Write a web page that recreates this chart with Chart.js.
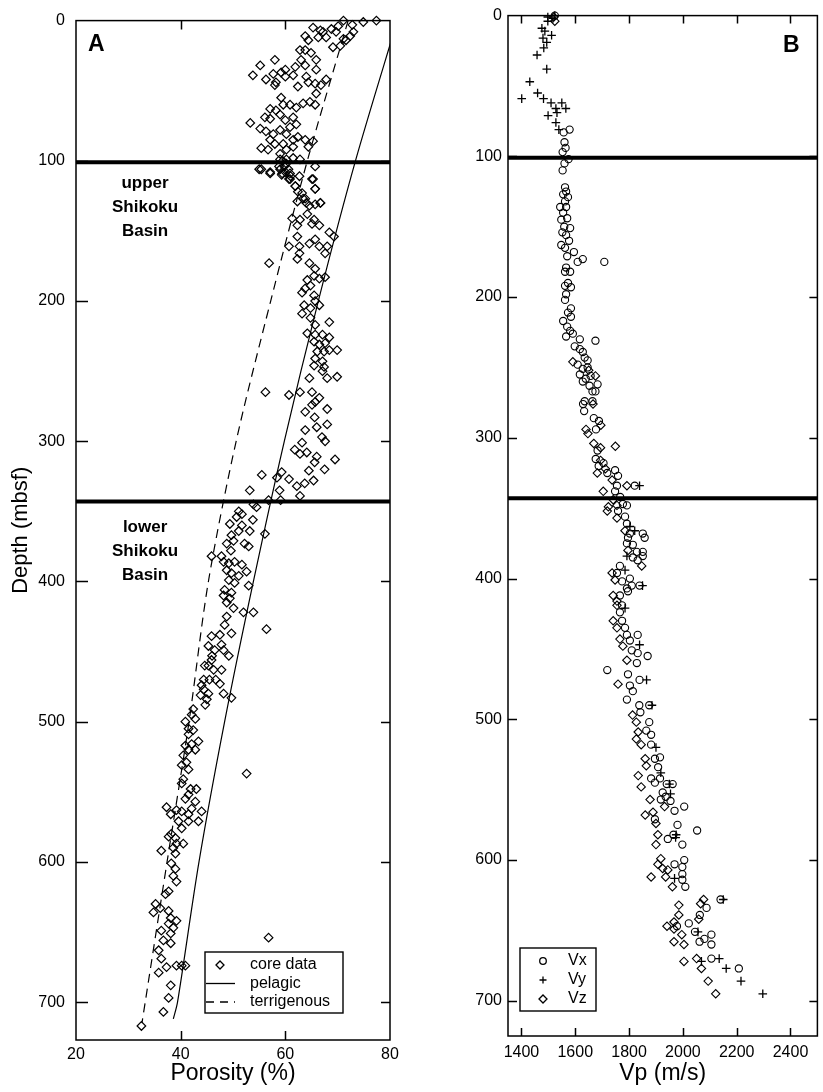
<!DOCTYPE html>
<html>
<head>
<meta charset="utf-8">
<script src="https://cdn.jsdelivr.net/npm/chart.js@4.4.1/dist/chart.umd.min.js"></script>
<style>
  html, body { margin: 0; padding: 0; background: #fff; }
  #wrap { position: relative; width: 823px; height: 1092px; overflow: hidden; }
  canvas { position: absolute; top: 0; }
  #porosityChart { left: 0; }
  #velocityChart { left: 440px; }
</style>
</head>
<body>
<div id="wrap">
  <canvas id="porosityChart" width="440" height="1092"></canvas>
  <canvas id="velocityChart" width="383" height="1092"></canvas>
</div>
<script>
// ---- Panel A: porosity vs depth ----
const porosityTicks = [20, 40, 60, 80];
const depthTicks = [0, 100, 200, 300, 400, 500, 600, 700];
const unitBoundaries = [101, 343];   // mbsf

// [porosity %, depth mbsf]
const coreData = [
  [77.4,0],[74.9,1],[72.8,3],[71.1,0],[70.1,4],[68.8,6],[67.2,8],[69.7,8],[73.0,8],[72.4,11],[71.1,13],[71.6,14],
  [70.5,18],[69.1,19],[67.8,12],[66.7,7],[65.3,5],[66.3,12],[63.8,11],[64.4,14],[62.8,21],[63.8,21],[64.9,23],
  [65.9,28],[63.0,28],[63.8,32],[65.9,35],[61.9,33],[60.0,35],[59.2,37],[58.0,28],[55.2,32],[53.8,39],[56.3,42],
  [57.7,38],[58.2,44],[58.0,46],[60.0,40],[61.5,39],[62.4,47],[64.0,40],[64.4,44],[65.7,45],[66.8,46],[67.8,42],
  [65.9,52],[65.7,60],[64.7,58],[63.4,59],[62.1,62],[60.9,60],[59.2,55],[59.6,60],[58.2,64],[57.1,63],[56.1,69],
  [57.1,70],[59.0,67],[60.0,71],[61.5,69],[62.1,74],[60.9,76],[60.2,81],[59.0,78],[57.7,81],[56.3,79],[55.2,77],
  [53.3,73],[57.1,85],[58.0,88],[59.6,88],[61.5,85],[62.4,83],[63.8,85],[65.3,86],[64.4,90],[61.5,90],[60.2,92],
  [59.0,95],[56.7,92],[55.4,91],[59.0,99],[60.2,99],[61.5,98],[62.8,99],[65.7,104],[55.4,106],[57.1,108],[59.0,106],
  [60.0,108],[60.9,109],[65.3,113],[60.9,113],[61.9,118],[62.4,122],[65.7,120],[63.4,127],[66.7,130],[64.0,130],
  [59.5,100],[60.2,102],[59.8,104],[60.6,106],[59.3,110],[61.0,111],
  [55.0,106],[57.1,109],[58.8,104],[59.4,109],[60.7,113],[61.9,118],[62.7,111],[65.1,113],[65.7,120],[63.2,123],
  [62.3,129],[63.8,127],[64.6,132],[65.7,131],[66.7,130],[61.3,141],[62.3,146],[62.8,142],[64.2,138],[65.5,142],
  [65.1,145],[66.5,146],[68.4,151],[69.3,154],[62.3,154],[60.7,161],[62.7,161],[64.6,159],[65.7,156],[66.5,161],
  [68.0,161],[67.6,166],[62.7,166],[62.3,170],[56.9,173],[64.6,173],[65.7,177],[65.5,182],[66.5,184],[67.6,183],
  [64.2,185],[63.8,191],[63.2,194],[64.8,189],[65.5,196],[65.7,200],[63.6,203],[64.8,205],[66.5,203],[63.2,209],
  [64.8,212],[65.7,217],[68.4,215],[64.2,223],[65.7,224],[67.1,224],[68.4,226],[65.5,229],[66.5,231],[67.6,230],
  [66.1,236],[67.4,236],[68.4,235],[69.9,235],[65.7,241],[67.1,243],[65.5,246],[67.4,247],[67.1,250],[68.0,255],
  [69.9,254],[64.6,255],[56.2,265],[60.7,267],[62.8,265],[65.1,265],[66.5,269],[65.7,272],
  [65.1,274],[63.8,279],[68.0,277],[65.6,283],[66.0,290],[68.0,288],[63.8,292],[67.0,297],[67.6,300],[63.2,301],
  [61.8,306],[62.8,309],[64.1,308],[66.0,311],[65.6,315],[69.5,313],[64.5,321],[67.5,320],[65.4,328],[63.7,330],
  [62.2,332],[62.8,339],[59.3,322],[58.4,326],[60.7,327],[55.5,324],[58.9,335],[53.2,335],[59.1,342],[56.8,342],
  [54.5,347],[53.9,345],
  [51.1,350],[51.7,352],[50.7,354],[49.4,359],[51.7,360],[51.1,364],[53.2,364],[53.8,356],[49.7,367],[50.1,371],
  [48.8,373],[52.2,373],[53.0,375],[49.6,378],[45.9,382],[47.8,382],[48.2,386],[49.2,387],[50.3,386],[51.7,388],
  [56.1,366],[48.8,392],[49.7,394],[51.1,396],[52.6,393],[49.2,399],[50.3,401],[53.0,403],[48.4,406],[49.7,408],
  [48.2,410],[49.4,412],[48.8,415],[50.1,419],[52.0,422],[53.9,422],[56.4,434],[48.8,425],[48.4,431],[49.7,437],
  [45.9,439],[47.5,438],[45.3,446],[46.5,449],[48.2,449],[49.2,453],[44.6,460],[45.9,456],[46.3,463],[47.8,463],
  [44.4,470],[45.5,470],[47.5,473],[44.4,477],[45.3,480],[48.2,480],[49.7,483],
  [46.0,453],[47.8,445],[45.3,460],[46.7,470],[44.0,474],[45.0,484],[43.8,481],
  [44.7,488],[42.4,491],[42.1,495],[42.8,498],[40.9,500],[41.5,505],[42.4,506],[43.4,514],[41.5,509],[42.1,516],
  [40.9,517],[41.5,520],[42.8,520],[40.5,524],[41.1,529],[40.2,531],[41.5,534],[40.5,541],[40.2,544],[41.9,548],
  [43.0,548],[41.5,552],[40.9,555],[42.8,557],[44.0,564],[42.1,562],[41.5,566],[40.2,564],[39.2,563],[37.3,561],
  [38.1,566],[39.6,571],[41.5,571],[43.4,571],[40.2,576],[38.2,580],[39.0,583],[37.7,582],[39.2,587],[40.5,587],
  [36.3,592],[38.6,590],[39.0,594],[38.2,601],[39.0,605],[38.6,610],[39.2,614],[37.7,621],[37.1,623],[35.2,630],
  [34.8,636],[36.1,633],[37.7,635],[38.1,640],[39.2,642],[37.7,644],[38.6,647],[36.3,649],[38.1,651],[36.7,656],
  [38.1,658],[35.8,663],[36.3,669],[37.3,675],[35.8,679],[39.2,674],[40.2,674],[40.9,674],[38.1,688],[37.7,697],
  [36.7,707],[32.5,717],[52.6,537],[56.8,654]
];

// compaction trends: depth (mbsf) and porosity (%)
const pelagicDepth = [0, 100, 200, 300, 400, 500, 600, 700, 712];
const pelagicPorosity = [81.4, 73.4, 66.3, 59.8, 53.9, 48.4, 43.5, 39.4, 38.6];
const terrigenousDepth = [0, 100, 200, 300, 400, 500, 600, 715];
const terrigenousPorosity = [72.0, 64.2, 57.2, 50.6, 45.3, 41.6, 37.4, 32.6];

// ---- Panel B: P-wave velocity vs depth ----
const velocityTicks = [1400, 1600, 1800, 2000, 2200, 2400];

// [Vp m/s, depth mbsf]
const vxData = [
  [1524,0],[1579,81],[1557,83],[1560,90],[1564,94],[1553,97],[1575,102],[1560,105],[1553,110],
  [1562,122],[1566,125],[1555,127],[1573,129],[1562,132],[1544,136],[1566,136],[1555,140],[1570,144],[1548,145],
  [1581,151],[1559,150],[1552,154],[1566,156],[1577,160],[1548,163],[1562,165],[1595,168],[1609,175],[1628,173],
  [1708,175],[1570,171],[1566,179],[1581,182],[1562,182],[1573,190],[1562,192],[1584,193],[1566,198],[1562,202],
  [1584,208],[1573,211],[1584,214],[1555,217],[1570,221],[1581,224],[1566,228],[1591,226],[1617,230],[1675,231],
  [1598,235],[1617,237],[1628,239],[1609,248],[1635,243],[1646,245],[1628,251],[1646,250],[1617,255],[1657,256],
  [1639,258],[1628,260],[1653,263],[1683,262],[1664,267],[1675,267],[1635,274],[1664,274],
  [1629,276],[1633,281],[1669,286],[1688,288],[1677,294],[1683,309],[1676,315],[1705,318],[1687,320],[1719,325],
  [1748,323],[1759,327],[1755,334],[1821,334],[1748,338],[1767,342],[1777,347],[1792,348],[1759,352],[1785,356],
  [1792,361],[1803,368],[1851,368],[1858,371],[1796,371],[1792,375],[1814,376],[1829,381],[1851,381],[1814,385],
  [1832,387],[1851,384],[1766,391],[1755,396],[1774,402],[1803,400],[1839,405],[1810,405],[1792,407],[1796,409],
  [1766,412],[1774,419],[1766,424],[1774,430],[1785,435],[1792,440],[1832,440],[1803,444],[1810,451],[1832,453],
  [1869,455],[1829,460],[1719,465],[1796,468],[1839,472],[1803,476],[1814,480],[1792,486],
  [1838,490],[1875,490],[1842,495],[1875,502],[1864,508],[1882,511],[1882,518],[1896,528],[1915,527],[1908,534],
  [1882,542],[1915,542],[1896,545],[1940,546],[1962,546],[1925,552],[1918,557],[1936,555],[1954,558],[1969,565],
  [2005,562],[1896,571],[1944,585],[1965,582],[1980,575],[1998,589],[2053,579],[1969,603],[2005,600],[1998,605],
  [1998,610],[1998,614],[2009,619],[2140,628],[2088,634],[2063,639],[2022,645],[1978,647],[2045,651],[2106,653],
  [2080,656],[2062,658],[2106,660],[2106,670],[2208,677]
];
const vyData = [
  [1524,0],[1498,1],[1517,2],[1498,4],[1476,9],[1487,11],[1480,16],[1512,14],[1494,19],[1483,23],[1458,28],
  [1494,38],[1431,47],[1401,59],[1460,55],[1482,59],[1510,62],[1550,62],[1565,66],[1528,66],[1532,69],[1499,71],
  [1528,76],[1539,81],
  [1839,334],[1803,363],[1821,366],[1792,384],[1785,394],[1850,405],[1785,421],[1839,447],[1865,472],
  [1885,490],[1900,520],[1918,538],[1950,546],[1954,553],[1975,582],[1973,584],[1969,613],[2150,628],[2056,651],
  [2069,672],[2135,670],[2161,677],[2216,686],[2297,695]
];
const vzData = [
  [1524,4],[1520,1],[1591,246],[1675,256],[1650,252],
  [1666,276],[1695,291],[1640,294],[1647,297],[1669,304],[1694,307],[1749,306],[1694,316],[1712,322],[1682,325],
  [1737,330],[1792,334],[1704,338],[1741,344],[1755,348],[1723,349],[1719,352],[1755,357],[1785,366],[1796,380],
  [1847,391],[1737,396],[1748,401],[1741,412],[1755,416],[1755,419],[1741,430],[1755,435],[1766,443],[1777,448],
  [1792,458],[1759,475],
  [1813,497],[1827,502],[1834,509],[1827,514],[1845,518],[1860,528],[1864,533],[1834,540],[1845,548],[1878,557],
  [1932,562],[1860,568],[1889,566],[1900,574],[1907,582],[1900,589],[1918,599],[1907,603],[1925,606],[1944,607],
  [1936,612],[1882,612],[1961,619],[2077,628],[2066,631],[2059,642],[1985,632],[1985,639],[1967,644],[1941,647],
  [1967,649],[1996,653],[1967,658],[2004,660],[2004,672],[2051,670],[2069,677],[2094,686],[2122,695]
];

const FONT = '"Liberation Sans", Arial, Helvetica, sans-serif';
Chart.defaults.font.family = FONT;
Chart.defaults.color = '#000';

const toPoints = pairs => pairs.map(p => ({ x: p[0], y: p[1] }));
const zipPoints = (xs, ys) => xs.map((v, i) => ({ x: v, y: ys[i] }));
const plainNumber = v => String(v);

// draw a legend / marker symbol
function drawSymbol(ctx, kind, x, y) {
    ctx.save();
    ctx.strokeStyle = '#000';
    ctx.lineWidth = 1.3;
    ctx.beginPath();
    if (kind === 'diamond') {
        ctx.moveTo(x - 4, y); ctx.lineTo(x, y - 4); ctx.lineTo(x + 4, y); ctx.lineTo(x, y + 4); ctx.closePath();
    } else if (kind === 'circle') {
        ctx.arc(x, y, 3.3, 0, Math.PI * 2);
    } else if (kind === 'cross') {
        ctx.moveTo(x - 3.5, y); ctx.lineTo(x + 3.5, y); ctx.moveTo(x, y - 3.5); ctx.lineTo(x, y + 3.5);
    } else if (kind === 'solid') {
        ctx.moveTo(x - 14, y); ctx.lineTo(x + 15, y);
    } else if (kind === 'dashed') {
        ctx.setLineDash([8, 6]);
        ctx.moveTo(x - 14, y); ctx.lineTo(x + 15, y);
    }
    ctx.stroke();
    ctx.restore();
}

function drawLegend(ctx, box) {
    ctx.save();
    ctx.fillStyle = '#fff';
    ctx.fillRect(box.x, box.y, box.w, box.h);
    ctx.strokeStyle = '#000';
    ctx.lineWidth = 1.4;
    ctx.strokeRect(box.x, box.y, box.w, box.h);
    ctx.font = box.font;
    ctx.textBaseline = 'middle';
    ctx.fillStyle = '#000';
    box.items.forEach((it, i) => {
        const cy = box.y + box.firstRow + i * box.rowGap;
        drawSymbol(ctx, it.symbol, box.symX, cy);
        ctx.fillText(it.label, box.textX, cy);
    });
    ctx.restore();
}

// frame + inward tick marks on all four sides
const frameTicks = {
    id: 'frameTicks',
    afterDatasetsDraw(chart, args, opts) {
        const { ctx, chartArea: a, scales: { x, y } } = chart;
        const len = opts.len || 9;
        ctx.save();
        ctx.strokeStyle = '#000';
        ctx.lineWidth = 1.5;
        ctx.strokeRect(a.left, a.top, a.right - a.left, a.bottom - a.top);
        ctx.beginPath();
        x.ticks.forEach(t => {
            const px = Math.round(x.getPixelForValue(t.value)) + 0.5;
            if (px < a.left + 3 || px > a.right - 3) return;
            ctx.moveTo(px, a.top); ctx.lineTo(px, a.top + len);
            ctx.moveTo(px, a.bottom); ctx.lineTo(px, a.bottom - len);
        });
        y.ticks.forEach(t => {
            const py = Math.round(y.getPixelForValue(t.value)) + 0.5;
            if (py < a.top + 3 || py > a.bottom - 3) return;
            ctx.moveTo(a.left, py); ctx.lineTo(a.left + (opts.leftLen || len), py);
            ctx.moveTo(a.right, py); ctx.lineTo(a.right - len, py);
        });
        ctx.stroke();
        ctx.restore();
    }
};

function fixedTicks(values) {
    return scale => { scale.ticks = values.map(v => ({ value: v })); };
}

function boundaryLines(xMin, xMax) {
    return unitBoundaries.map(d => ({
        type: 'scatter',
        data: [{ x: xMin, y: d }, { x: xMax, y: d }],
        showLine: true,
        borderColor: '#000',
        borderWidth: 4,
        pointRadius: 0
    }));
}

// ---- Panel A ----
const notesA = {
    id: 'notesA',
    afterDraw(chart) {
        const { ctx, scales: { x } } = chart;
        ctx.save();
        ctx.fillStyle = '#000';
        ctx.font = 'bold 23px ' + FONT;
        ctx.textBaseline = 'alphabetic';
        ctx.fillText('A', 88, 51);

        ctx.font = 'bold 17px ' + FONT;
        ctx.textAlign = 'center';
        ctx.textBaseline = 'middle';
        const cx = x.getPixelForValue(33.2);
        ['upper', 'Shikoku', 'Basin'].forEach((t, i) => ctx.fillText(t, cx, 183 + i * 24));
        ['lower', 'Shikoku', 'Basin'].forEach((t, i) => ctx.fillText(t, cx, 527 + i * 24));
        ctx.restore();

        drawLegend(ctx, {
            x: 205, y: 952, w: 138, h: 61,
            symX: 220, textX: 250, firstRow: 13, rowGap: 18.5,
            font: '16px ' + FONT,
            items: [
                { symbol: 'diamond', label: 'core data' },
                { symbol: 'solid', label: 'pelagic' },
                { symbol: 'dashed', label: 'terrigenous' }
            ]
        });
    }
};

new Chart(document.getElementById('porosityChart'), {
    type: 'scatter',
    data: {
        datasets: [
            ...boundaryLines(20, 80),
            {
                label: 'core data',
                data: toPoints(coreData),
                pointStyle: 'rectRot',
                pointRadius: 4.3,
                borderWidth: 1.2,
                borderColor: '#000',
                backgroundColor: 'rgba(0,0,0,0)',
                clip: false
            },
            {
                label: 'pelagic',
                data: zipPoints(pelagicPorosity, pelagicDepth),
                showLine: true,
                borderColor: '#000',
                borderWidth: 1.2,
                pointRadius: 0,
                tension: 0.3
            },
            {
                label: 'terrigenous',
                data: zipPoints(terrigenousPorosity, terrigenousDepth),
                showLine: true,
                borderColor: '#000',
                borderWidth: 1.2,
                borderDash: [9, 6],
                pointRadius: 0,
                tension: 0.3
            }
        ]
    },
    options: {
        responsive: false,
        animation: false,
        layout: { padding: { top: 13, right: 50, left: 0, bottom: 0 } },
        plugins: {
            legend: { display: false },
            tooltip: { enabled: false },
            frameTicks: { len: 9, leftLen: 12 }
        },
        scales: {
            x: {
                type: 'linear',
                min: 20,
                max: 80,
                afterBuildTicks: fixedTicks(porosityTicks),
                afterFit: s => { s.height = 52; },
                grid: { display: false, drawTicks: false },
                border: { display: false },
                ticks: { font: { size: 16 }, padding: 5, color: '#000', callback: plainNumber },
                title: { display: true, text: 'Porosity (%)', font: { size: 23 }, padding: { top: 0, bottom: 5 }, color: '#000' }
            },
            y: {
                type: 'linear',
                reverse: true,
                min: 0,
                max: 727,
                afterBuildTicks: fixedTicks(depthTicks),
                afterFit: s => { s.width = 76; },
                grid: { display: false, drawTicks: false },
                border: { display: false },
                ticks: { font: { size: 16 }, padding: 11, color: '#000', callback: plainNumber },
                title: { display: true, text: 'Depth (mbsf)', font: { size: 22 }, padding: { top: 8, bottom: 0 }, color: '#000' }
            }
        }
    },
    plugins: [frameTicks, notesA]
});

// ---- Panel B ----
const notesB = {
    id: 'notesB',
    afterDraw(chart) {
        const { ctx } = chart;
        ctx.save();
        ctx.fillStyle = '#000';
        ctx.font = 'bold 23px ' + FONT;
        ctx.fillText('B', 343, 52);
        ctx.restore();

        drawLegend(ctx, {
            x: 80, y: 948, w: 76, h: 63,
            symX: 103, textX: 128, firstRow: 13, rowGap: 19,
            font: '16px ' + FONT,
            items: [
                { symbol: 'circle', label: 'Vx' },
                { symbol: 'cross', label: 'Vy' },
                { symbol: 'diamond', label: 'Vz' }
            ]
        });
    }
};

const markerBase = {
    borderColor: '#000',
    backgroundColor: 'rgba(0,0,0,0)',
    borderWidth: 1.1,
    clip: false
};

new Chart(document.getElementById('velocityChart'), {
    type: 'scatter',
    data: {
        datasets: [
            ...boundaryLines(1350, 2500),
            { ...markerBase, label: 'Vx', data: toPoints(vxData), pointStyle: 'circle', pointRadius: 3.6 },
            { ...markerBase, label: 'Vy', data: toPoints(vyData), pointStyle: 'cross', pointRadius: 4.3, borderWidth: 1.3 },
            { ...markerBase, label: 'Vz', data: toPoints(vzData), pointStyle: 'rectRot', pointRadius: 4.2 }
        ]
    },
    options: {
        responsive: false,
        animation: false,
        layout: { padding: { top: 9, right: 3, left: 0, bottom: 0 } },
        plugins: {
            legend: { display: false },
            tooltip: { enabled: false },
            frameTicks: { len: 8, leftLen: 9 }
        },
        scales: {
            x: {
                type: 'linear',
                min: 1350,
                max: 2500,
                afterBuildTicks: fixedTicks(velocityTicks),
                afterFit: s => { s.height = 56; },
                grid: { display: false, drawTicks: false },
                border: { display: false },
                ticks: { font: { size: 16 }, padding: 7, color: '#000', callback: plainNumber },
                title: { display: true, text: 'Vp (m/s)', font: { size: 23 }, padding: { top: 0, bottom: 5 }, color: '#000' }
            },
            y: {
                type: 'linear',
                reverse: true,
                min: 0,
                max: 725,
                afterBuildTicks: fixedTicks(depthTicks),
                afterFit: s => { s.width = 68; },
                grid: { display: false, drawTicks: false },
                border: { display: false },
                ticks: { font: { size: 16 }, padding: 6, color: '#000', callback: plainNumber }
            }
        }
    },
    plugins: [frameTicks, notesB]
});
</script>
</body>
</html>
